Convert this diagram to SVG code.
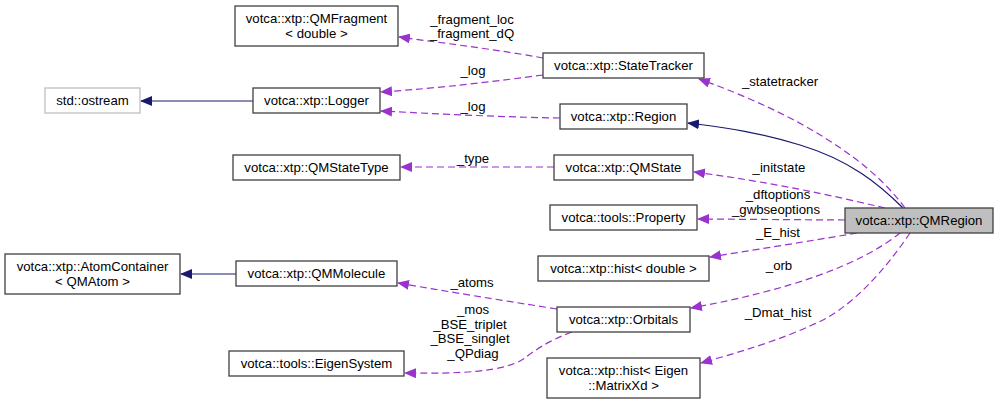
<svg xmlns="http://www.w3.org/2000/svg" width="999" height="404" viewBox="0 0 999 404">
<style>
text{font-family:"Liberation Sans",Arial,sans-serif;font-size:13.2px;fill:#000}
.n{text-anchor:middle}
.box{fill:#fff;stroke:#404040;stroke-width:1.3}
.gbox{fill:#fff;stroke:#bfbfbf;stroke-width:1.3}
.sel{fill:#bfbfbf;stroke:#404040;stroke-width:1.3}
.d{fill:none;stroke:#9a32cd;stroke-width:1.2;stroke-dasharray:7,4}
.s{fill:none;stroke:#191970;stroke-width:1.2}
.l{text-anchor:middle}
</style>
<defs>
<marker id="ap" viewBox="0 0 12 10" refX="11" refY="5" markerWidth="12" markerHeight="10" markerUnits="userSpaceOnUse" orient="auto"><path d="M0,0 L12,5 L0,10 Z" fill="#9a32cd"/></marker>
<marker id="an" viewBox="0 0 12 10" refX="11" refY="5" markerWidth="12" markerHeight="10" markerUnits="userSpaceOnUse" orient="auto"><path d="M0,0 L12,5 L0,10 Z" fill="#191970"/></marker>
</defs>
<g id="connectors">
<path class="s" d="M253,101 L141,101" marker-end="url(#an)"/>
<path class="s" d="M236,274 L181,274" marker-end="url(#an)"/>
<path class="s" d="M903,208 C880,185 850,160 800,145 C760,133 730,128 688,123" marker-end="url(#an)"/>
<path class="d" d="M543,58 C500,50 450,44 399,37" marker-end="url(#ap)"/>
<path class="d" d="M543,75 C490,82 440,88 381,92" marker-end="url(#ap)"/>
<path class="d" d="M560,118 C500,117 440,114 381,111" marker-end="url(#ap)"/>
<path class="d" d="M905,208 C870,160 800,115 699,79" marker-end="url(#ap)"/>
<path class="d" d="M554,167 L401,167" marker-end="url(#ap)"/>
<path class="d" d="M885,208 C830,195 770,182 694,172" marker-end="url(#ap)"/>
<path class="d" d="M845,220 L698,219" marker-end="url(#ap)"/>
<path class="d" d="M857,233 C810,241 760,249 710,257" marker-end="url(#ap)"/>
<path class="d" d="M900,233 C860,265 790,290 691,308" marker-end="url(#ap)"/>
<path class="d" d="M910,233 C885,270 850,310 812,325 C780,340 740,352 701,363" marker-end="url(#ap)"/>
<path class="d" d="M557,309 C500,300 450,292 398,283" marker-end="url(#ap)"/>
<path class="d" d="M572,332 C550,340 535,350 525,358 C505,372 460,374 405,373" marker-end="url(#ap)"/>
</g>
<g id="edge-labels">
<text class="l" x="472" y="24">_fragment_loc</text>
<text class="l" x="472" y="38">_fragment_dQ</text>
<text class="l" x="473" y="75">_log</text>
<text class="l" x="473" y="111">_log</text>
<text class="l" x="780" y="86">_statetracker</text>
<text class="l" x="473" y="163">_type</text>
<text class="l" x="779" y="172">_initstate</text>
<text class="l" x="778" y="199">_dftoptions</text>
<text class="l" x="776" y="214">_gwbseoptions</text>
<text class="l" x="778" y="237">_E_hist</text>
<text class="l" x="779" y="270">_orb</text>
<text class="l" x="778" y="317">_Dmat_hist</text>
<text class="l" x="472" y="287">_atoms</text>
<text class="l" x="473" y="314">_mos</text>
<text class="l" x="470" y="329">_BSE_triplet</text>
<text class="l" x="470" y="343">_BSE_singlet</text>
<text class="l" x="473" y="358">_QPdiag</text>
</g>
<g id="QMRegion"><rect class="sel" x="845" y="208" width="148" height="25"/><text class="n" x="919" y="225">votca::xtp::QMRegion</text></g>
<g id="Region"><rect class="box" x="560" y="104" width="127" height="25"/><text class="n" x="623.5" y="121">votca::xtp::Region</text></g>
<g id="Logger"><rect class="box" x="253" y="88" width="127" height="25"/><text class="n" x="316.5" y="105">votca::xtp::Logger</text></g>
<g id="ostream"><rect class="gbox" x="45" y="88" width="95" height="25"/><text class="n" x="92.5" y="105">std::ostream</text></g>
<g id="QMFragment"><rect class="box" x="235" y="6" width="163" height="40"/><text class="n" x="316.5" y="23">votca::xtp::QMFragment</text><text class="n" x="316.5" y="38">&lt; double &gt;</text></g>
<g id="StateTracker"><rect class="box" x="543" y="53" width="161" height="25"/><text class="n" x="623.5" y="70">votca::xtp::StateTracker</text></g>
<g id="QMStateType"><rect class="box" x="233" y="155" width="167" height="25"/><text class="n" x="316.5" y="172">votca::xtp::QMStateType</text></g>
<g id="QMState"><rect class="box" x="554" y="155" width="139" height="25"/><text class="n" x="623.5" y="172">votca::xtp::QMState</text></g>
<g id="Property"><rect class="box" x="550" y="205" width="147" height="25"/><text class="n" x="623.5" y="222">votca::tools::Property</text></g>
<g id="histDouble"><rect class="box" x="538" y="256" width="171" height="25"/><text class="n" x="623.5" y="273">votca::xtp::hist&lt; double &gt;</text></g>
<g id="AtomContainer"><rect class="box" x="5" y="254" width="175" height="40"/><text class="n" x="92.5" y="271">votca::xtp::AtomContainer</text><text class="n" x="92.5" y="286">&lt; QMAtom &gt;</text></g>
<g id="QMMolecule"><rect class="box" x="236" y="261" width="161" height="25"/><text class="n" x="316.5" y="278">votca::xtp::QMMolecule</text></g>
<g id="Orbitals"><rect class="box" x="557" y="307" width="133" height="25"/><text class="n" x="623.5" y="324">votca::xtp::Orbitals</text></g>
<g id="EigenSystem"><rect class="box" x="229" y="351" width="175" height="25"/><text class="n" x="316.5" y="368">votca::tools::EigenSystem</text></g>
<g id="histMatrix"><rect class="box" x="547" y="358" width="153" height="40"/><text class="n" x="623.5" y="375">votca::xtp::hist&lt; Eigen</text><text class="n" x="623.5" y="390">::MatrixXd &gt;</text></g>
</svg>
